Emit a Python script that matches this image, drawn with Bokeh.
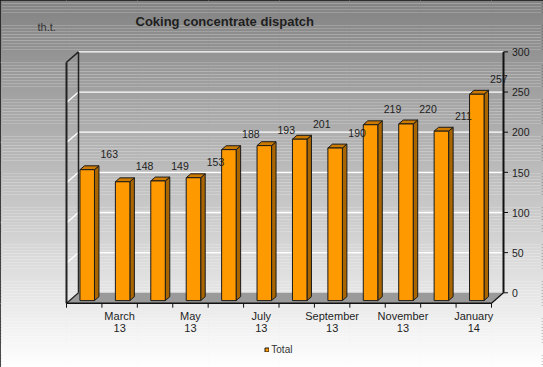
import numpy as np
from bokeh.plotting import figure
from bokeh.models import Range1d, Legend, LegendItem, ColumnDataSource
from bokeh.embed import file_html
from bokeh.resources import INLINE
from bokeh.core.properties import value

# ---------------- data ----------------
categories = ["February 13", "March 13", "April 13", "May 13", "June 13", "July 13",
              "August 13", "September 13", "October 13", "November 13", "December 13", "January 14"]
values = [163, 148, 149, 153, 188, 193, 201, 190, 219, 220, 211, 257]
tick_label_index = [1, 3, 5, 7, 9, 11]
tick_labels_month = ["March", "May", "July", "September", "November", "January"]
tick_labels_year = ["13", "13", "13", "13", "13", "14"]
y_ticks = [0, 50, 100, 150, 200, 250, 300]
title_text = "Coking concentrate  dispatch"
unit_text = "th.t."
series_name = "Total"

# ---------------- geometry / style ----------------
W, H = 543, 367          # figure size
OX, OY = 0, 0            # page offset
X0, CW = 66.0, 35.417    # front-plane left edge and px per category
Y0, VS = 302.7, 0.803    # front-plane zero line and px per unit
DX, DY = 12.0, 10.4      # 3-D depth offset in px
TS = -3.5                # text baseline correction (px)
FONT = "Liberation Sans"
TXT = "#1e1e1e"

def sx(X):
    return (X - X0) / CW

def sy(Y):
    return (Y0 - Y) / VS

def ddx(d):
    return DX * d / CW

def ddy(d):
    return DY * d / VS

n = len(values)
x_start, x_end = sx(OX), sx(OX + W)
y_start, y_end = sy(OY + H), sy(OY)

p = figure(width=W, height=H, x_range=Range1d(x_start, x_end), y_range=Range1d(y_start, y_end),
           output_backend="svg", toolbar_location=None, min_border=0,
           x_axis_location=None, y_axis_location=None,
           outline_line_color="#111111", outline_line_width=2,
           border_fill_color="white", background_fill_color="white")

# background gradient
edges = np.linspace(y_start, y_end, 120)
bots, tops = edges[:-1], edges[1:]
cols = []
for b, t in zip(bots, tops):
    Yc = Y0 - VS * (b + t) / 2
    g = int(round(130 + 125 * min(max(Yc / 367.0, 0), 1)))
    cols.append("#%02x%02x%02x" % (g, g, g))
p.quad(left=x_start, right=x_end, bottom=bots, top=tops, fill_color=cols, line_color=None)

# floor
p.patch([0, n, n + ddx(1), ddx(1)], [0, 0, ddy(1), ddy(1)], fill_color="#9a9a9a", line_color=None)

# back wall grid lines (white)
gx, gy = [], []
for v in y_ticks[1:]:
    gx.append([ddx(1), n + ddx(1)])
    gy.append([v + ddy(1), v + ddy(1)])
p.multi_line(gx, gy, line_color="white", line_width=1.3)

# left wall diagonals
lx, ly = [], []
for v in y_ticks[1:-1]:
    lx.append([0, ddx(1)])
    ly.append([v, v + ddy(1)])
p.multi_line(lx, ly, line_color="white", line_width=1.3)

# left wall edges (dark)
top_v = y_ticks[-1]
p.multi_line([[0, 0], [ddx(1), ddx(1)], [0, ddx(1)], [0, ddx(1)]],
             [[0, top_v], [ddy(1), top_v + ddy(1)], [top_v, top_v + ddy(1)], [0, ddy(1)]],
             line_color="#222222", line_width=[2, 1.5, 1.5, 1.2])

# x axis line and ticks
p.line([0, n], [0, 0], line_color="#111111", line_width=1.5)
p.line([n, n + ddx(1)], [0, ddy(1)], line_color="#111111", line_width=1.2)
tick_x = list(range(n + 1))
p.segment(x0=tick_x, y0=[0] * len(tick_x), x1=tick_x, y1=[-4.5 / VS] * len(tick_x),
          line_color="#111111", line_width=1)

lab_x = [i + 0.5 for i in tick_label_index]
p.text(x=lab_x, y=[sy(318.5 + TS)] * len(lab_x), text=tick_labels_month, text_align="center",
       text_baseline="alphabetic", text_font=value(FONT), text_font_size="11px", text_color=TXT)
p.text(x=lab_x, y=[sy(330.5 + TS)] * len(lab_x), text=tick_labels_year, text_align="center",
       text_baseline="alphabetic", text_font=value(FONT), text_font_size="11px", text_color=TXT)

# right value axis
ax_x = n + ddx(1)
p.line([ax_x, ax_x], [ddy(1), top_v + ddy(1)], line_color="#111111", line_width=2)
yt = [v + ddy(1) for v in y_ticks]
p.segment(x0=[ax_x] * len(yt), y0=yt, x1=[ax_x + 4.5 / CW] * len(yt), y1=yt,
          line_color="#111111", line_width=1)
p.text(x=[ax_x + 8.5 / CW] * len(yt), y=yt, text=[str(v) for v in y_ticks], text_align="left",
       text_baseline="alphabetic", y_offset=3.7 + TS, text_font=value(FONT), text_font_size="10.5px",
       text_color=TXT)

# bars (3-D)
d0, dd = 0.25, 0.375
hw = 7.25 / CW
centers = np.arange(n) + 0.5
L = centers - hw + ddx(d0)
R = centers + hw + ddx(d0)
B = np.full(n, ddy(d0))
T = np.array(values, dtype=float) + ddy(d0)
sxs, sys_, txs, tys = [], [], [], []
for l, r, b, t in zip(L, R, B, T):
    sxs.append([r, r + ddx(dd), r + ddx(dd), r])
    sys_.append([b, b + ddy(dd), t + ddy(dd), t])
    txs.append([l, r, r + ddx(dd), l + ddx(dd)])
    tys.append([t, t, t + ddy(dd), t + ddy(dd)])
p.patches(sxs, sys_, fill_color="#a86500", line_color="#1a1a1a", line_width=1)
p.patches(txs, tys, fill_color="#cc7a00", line_color="#1a1a1a", line_width=1)
src = ColumnDataSource(dict(left=L, right=R, bottom=B, top=T, cat=categories))
front = p.quad(left="left", right="right", bottom="bottom", top="top", source=src,
               fill_color="#ff9900", line_color="#1a1a1a", line_width=1)

# value labels
p.text(x=centers, y=values, text=[str(v) for v in values], text_align="center",
       text_baseline="alphabetic", x_offset=25.0, y_offset=-14.4 + TS,
       text_font=value(FONT), text_font_size="10.5px", text_color=TXT)

# title and unit
p.text(x=[sx(135)], y=[sy(24 + TS)], text=[title_text], text_align="left", text_baseline="alphabetic",
       text_font=value(FONT), text_font_size="13px", text_font_style="bold", text_color=TXT)
p.text(x=[sx(37)], y=[sy(30 + TS)], text=[unit_text], text_align="left", text_baseline="alphabetic",
       text_font=value(FONT), text_font_size="11px", text_color="#333333")

# legend
legend = Legend(items=[LegendItem(label=series_name, renderers=[front])],
                location=(264.3, 12.0), orientation="horizontal",
                glyph_width=5, glyph_height=5, label_standoff=2, padding=0, margin=0,
                spacing=0, label_height=10, label_text_font=FONT, label_text_font_size="10px",
                label_text_color="#333333", background_fill_alpha=0, border_line_color=None)
p.add_layout(legend)

open("out.html", "w").write(file_html(p, INLINE))
